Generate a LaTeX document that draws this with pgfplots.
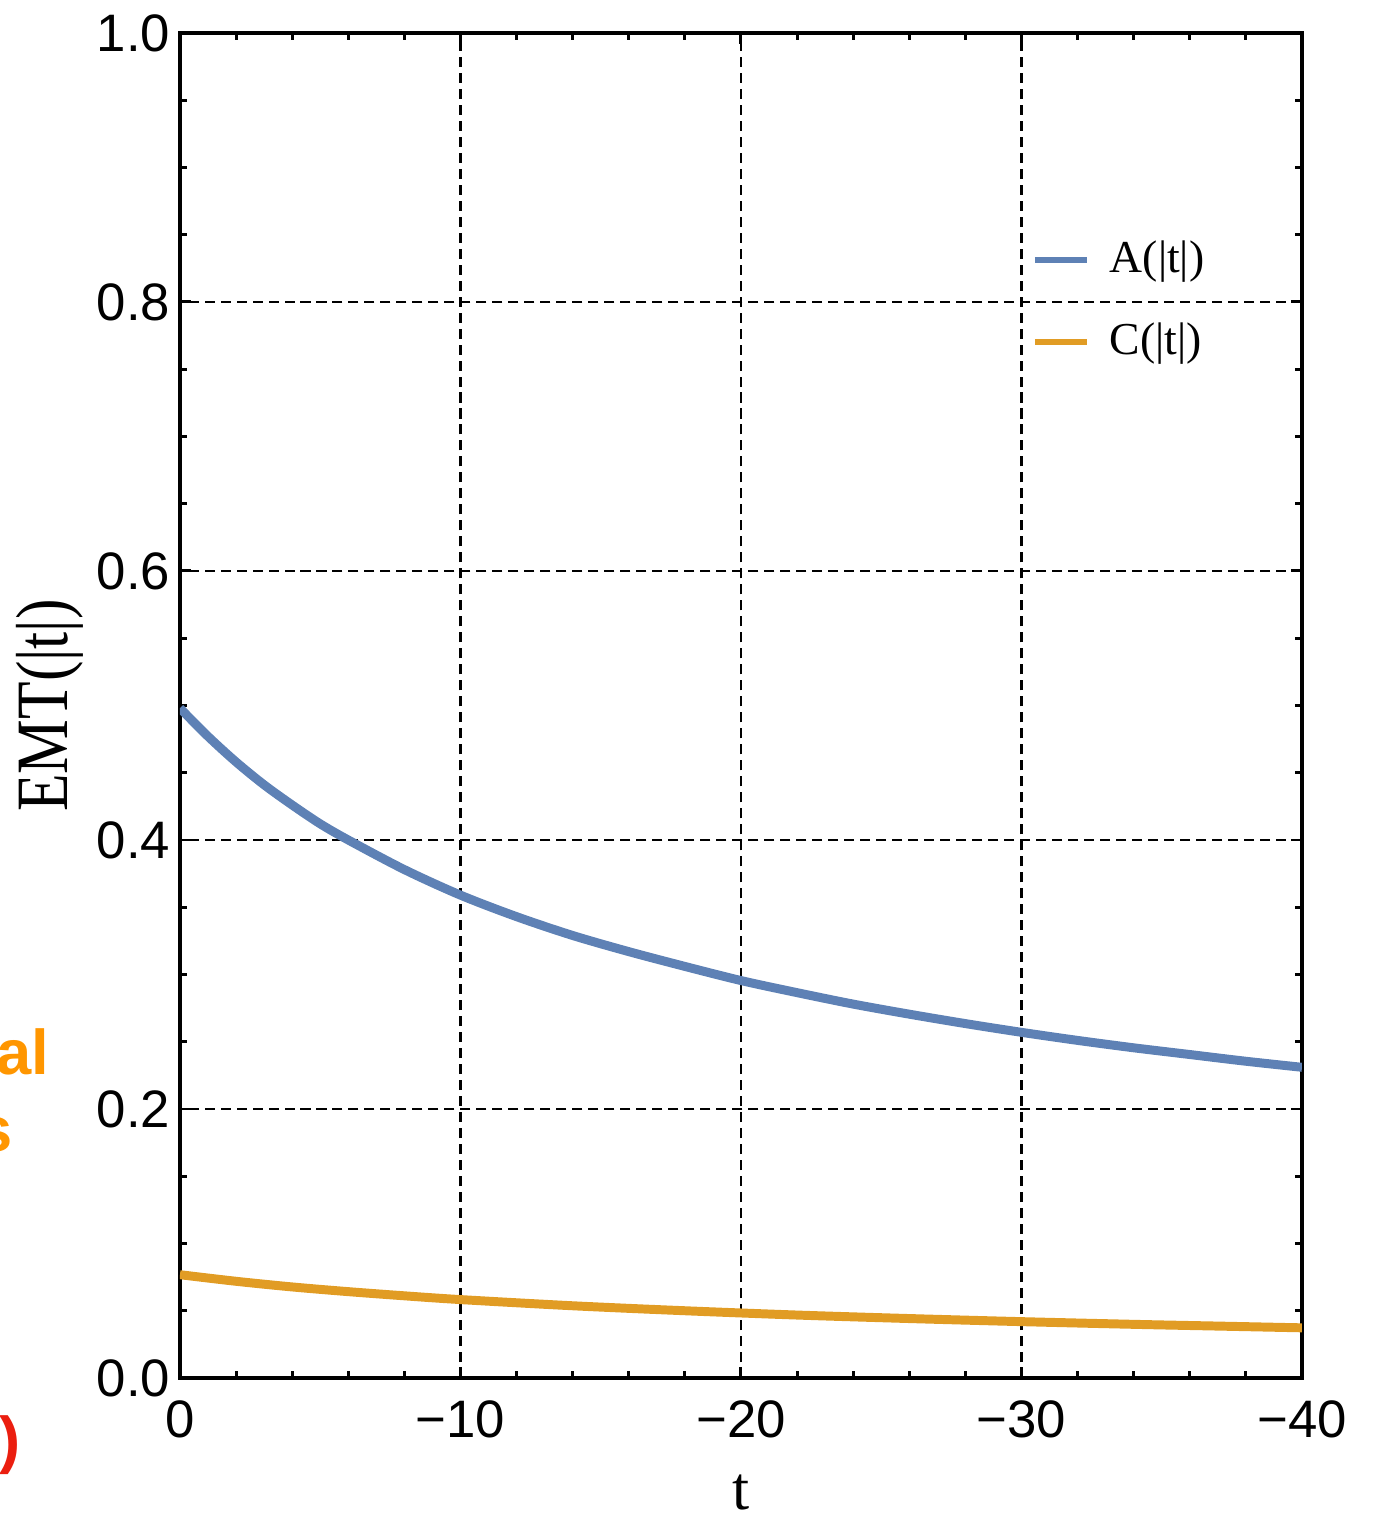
\documentclass[border=0pt]{standalone}
\usepackage{fontspec}
\setmainfont{Liberation Serif}
\newfontfamily\sansfnt{Liberation Sans}
\usepackage{pgfplots}
\pgfplotsset{compat=1.18}
\definecolor{mblue}{RGB}{94,129,181}
\definecolor{morange}{RGB}{225,156,36}
\definecolor{sorange}{RGB}{255,150,0}
\definecolor{sred}{RGB}{235,30,15}
\begin{document}
\begin{tikzpicture}
\begin{axis}[
  at={(1.80cm,1.37cm)}, anchor=south west,
  scale only axis, width=11.22cm, height=13.45cm,
  xmin=-40, xmax=0, x dir=reverse, ymin=0, ymax=1,
  xtick={0,-10,-20,-30,-40}, xticklabels={0,−10,−20,−30,−40},
  ytick={0,0.2,0.4,0.6,0.8,1}, yticklabels={0.0,0.2,0.4,0.6,0.8,1.0},
  minor x tick num=4, minor y tick num=3,
  tick pos=both, xticklabel pos=lower, yticklabel pos=left,
  tick align=inside, major tick length=0.11cm, minor tick length=0.07cm,
  tick style={black, line width=0.85pt},
  axis line style={black, line width=1.1pt},
  grid=major,
  major grid style={black, line width=0.6pt, dash pattern=on 2.85pt off 1.7pt},
  ticklabel style={font=\sansfnt\fontsize{15}{17}\selectfont, inner sep=0pt},
  xticklabel style={anchor=north, yshift=-0.22cm},
  yticklabel style={anchor=east, xshift=-0.09cm},
  xlabel={t},
  xlabel style={at={(axis description cs:0.5,-0.0981)}, anchor=base, inner sep=0pt, font=\fontsize{17.5}{20}\selectfont},
  ylabel={\scalebox{1}[1.2]{EMT(|t|)}},
  ylabel style={at={(axis description cs:-0.1163,0.5)}, anchor=center, rotate=0, inner sep=0pt, font=\fontsize{17.5}{20}\selectfont},
  legend style={at={(axis description cs:0.7593,0.8453)}, anchor=north west,
    draw=none, fill=none, inner sep=0pt, outer sep=0pt,
    font=\fontsize{13}{15}\selectfont, row sep=0.45cm,
    nodes={inner sep=0pt},
    /tikz/every odd column/.append style={column sep=0.20cm}},
  legend cell align=left,
  legend image code/.code={\draw[#1, line width=1.7pt] (0cm,0cm) -- (0.52cm,0cm);},
]
\addplot[mblue, line width=2.55pt, smooth] coordinates {
(0,0.498) (-1,0.477) (-2,0.458) (-3,0.441) (-4,0.426) (-5,0.412) (-6,0.400)
(-8,0.378) (-10,0.359) (-12,0.343) (-14,0.329) (-16,0.317) (-18,0.306)
(-20,0.2955) (-22,0.2865) (-24,0.278) (-26,0.2705) (-28,0.2635) (-30,0.257)
(-32,0.251) (-34,0.2455) (-36,0.2405) (-38,0.2355) (-40,0.231)};
\addlegendentry{A(|t|)}
\addplot[morange, line width=2.55pt, smooth] coordinates {
(0,0.0768) (-2,0.0719) (-4,0.0677) (-6,0.0642) (-8,0.0611) (-10,0.0583)
(-14,0.0537) (-18,0.0500) (-22,0.0468) (-26,0.0442) (-30,0.0419) (-34,0.0399)
(-37,0.0386) (-40,0.0373)};
\addlegendentry{C(|t|)}
\end{axis}
\node[anchor=base east, inner sep=0pt, text=sorange, font=\sansfnt\bfseries\fontsize{18}{20}\selectfont] at (0.50cm,4.40cm) {al};
\node[anchor=base east, inner sep=0pt, text=sorange, font=\sansfnt\bfseries\fontsize{18}{20}\selectfont] at (0.13cm,3.63cm) {s};
\node[anchor=base east, inner sep=0pt, text=sred, font=\sansfnt\bfseries\fontsize{18}{20}\selectfont] at (0.21cm,0.53cm) {)};
\pgfresetboundingbox
\path[use as bounding box] (0,0) rectangle (13.75cm,15.15cm);
\end{tikzpicture}
\end{document}
